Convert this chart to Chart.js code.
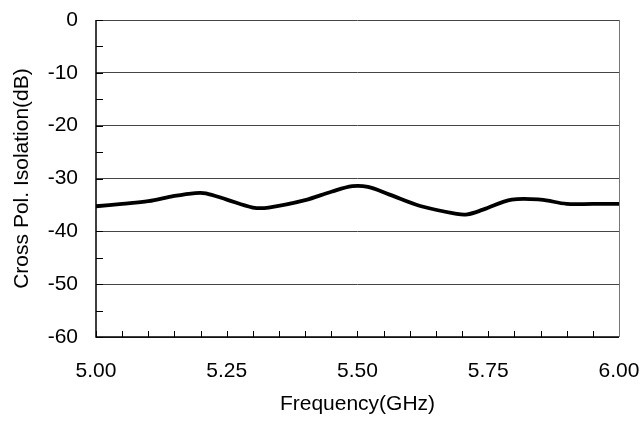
<!DOCTYPE html>
<html><head><meta charset="utf-8">
<script src="https://cdn.jsdelivr.net/npm/chart.js@4"></script>
<style>html,body{margin:0;padding:0;background:#fff;}#wrap{width:641px;height:421px;}</style>
</head><body><div id="wrap"><canvas id="c" width="641" height="421"></canvas></div>
<script>
const freqs = [5.00,5.05,5.10,5.15,5.19,5.21,5.25,5.30,5.33,5.40,5.45,5.49,5.52,5.56,5.62,5.69,5.71,5.74,5.795,5.85,5.90,5.95,6.00];
const isolation = [-35.25,-34.8,-34.3,-33.3,-32.75,-32.8,-34.0,-35.5,-35.5,-34.1,-32.5,-31.45,-31.6,-33.0,-35.2,-36.7,-36.8,-35.9,-34.0,-34.0,-34.8,-34.8,-34.8];
const xTickLabels = ['5.00','5.25','5.50','5.75','6.00'];
const yTicks = [0,-10,-20,-30,-40,-50,-60];

const frame = {
  id:'frame',
  afterDraw(chart){
    const {ctx, chartArea:a, scales:{x,y}} = chart;
    ctx.save();
    ctx.strokeStyle='#000'; ctx.lineWidth=1;
    for(let v=5; v<=6.0001; v+=0.05){
      const px=Math.round(x.getPixelForValue(v))+0.5;
      ctx.beginPath(); ctx.moveTo(px,a.bottom); ctx.lineTo(px,a.bottom-6); ctx.stroke();
    }
    for(let v=0; v>=-60; v-=5){
      const py=Math.round(y.getPixelForValue(v))+0.5;
      ctx.beginPath(); ctx.moveTo(a.left,py); ctx.lineTo(a.left+7,py); ctx.stroke();
    }
    ctx.strokeStyle='#777';
    ctx.beginPath(); ctx.moveTo(Math.round(a.right)+0.5,a.top); ctx.lineTo(Math.round(a.right)+0.5,a.bottom); ctx.stroke();
    ctx.strokeStyle='#000'; ctx.lineWidth=1.5;
    ctx.beginPath(); ctx.moveTo(a.left,a.top); ctx.lineTo(a.left,a.bottom); ctx.lineTo(a.right,a.bottom); ctx.stroke();
    ctx.restore();
  }
};

function noPad(s){s.paddingTop=0;s.paddingBottom=0;s.paddingLeft=0;s.paddingRight=0;}

new Chart(document.getElementById('c'),{
  type:'line',
  data:{datasets:[{
    data:freqs.map((f,i)=>({x:f,y:isolation[i]})),
    borderColor:'#000', borderWidth:3.8, pointRadius:0, tension:0.35, fill:false
  }]},
  options:{
    responsive:false, animation:false,
    layout:{padding:{left:6,right:22,top:20,bottom:4}},
    plugins:{legend:{display:false},tooltip:{enabled:false}},
    scales:{
      x:{type:'linear',min:5,max:6,
        afterBuildTicks(s){s.ticks=xTickLabels.map(t=>({value:parseFloat(t)}));},
        ticks:{padding:22,color:'#000',font:{family:'Liberation Sans',size:21},maxRotation:0,
          callback:(v)=>Number(v).toFixed(2)},
        grid:{display:false,drawTicks:false},
        border:{display:false},
        title:{display:true,text:'Frequency(GHz)',color:'#000',font:{family:'Liberation Sans',size:21},padding:{top:0,bottom:0}},
        afterFit(s){s.height=80;noPad(s);}
      },
      y:{min:-60,max:0,
        afterBuildTicks(s){s.ticks=yTicks.map(v=>({value:v}));},
        ticks:{padding:18,color:'#000',font:{family:'Liberation Sans',size:21}},
        grid:{color:'#444',lineWidth:1,drawTicks:false},
        border:{display:false},
        title:{display:true,text:'Cross Pol. Isolation(dB)',color:'#000',font:{family:'Liberation Sans',size:21},padding:{top:4,bottom:0}},
        afterFit(s){s.width=90;noPad(s);}
      }
    }
  },
  plugins:[frame]
});
</script></body></html>
